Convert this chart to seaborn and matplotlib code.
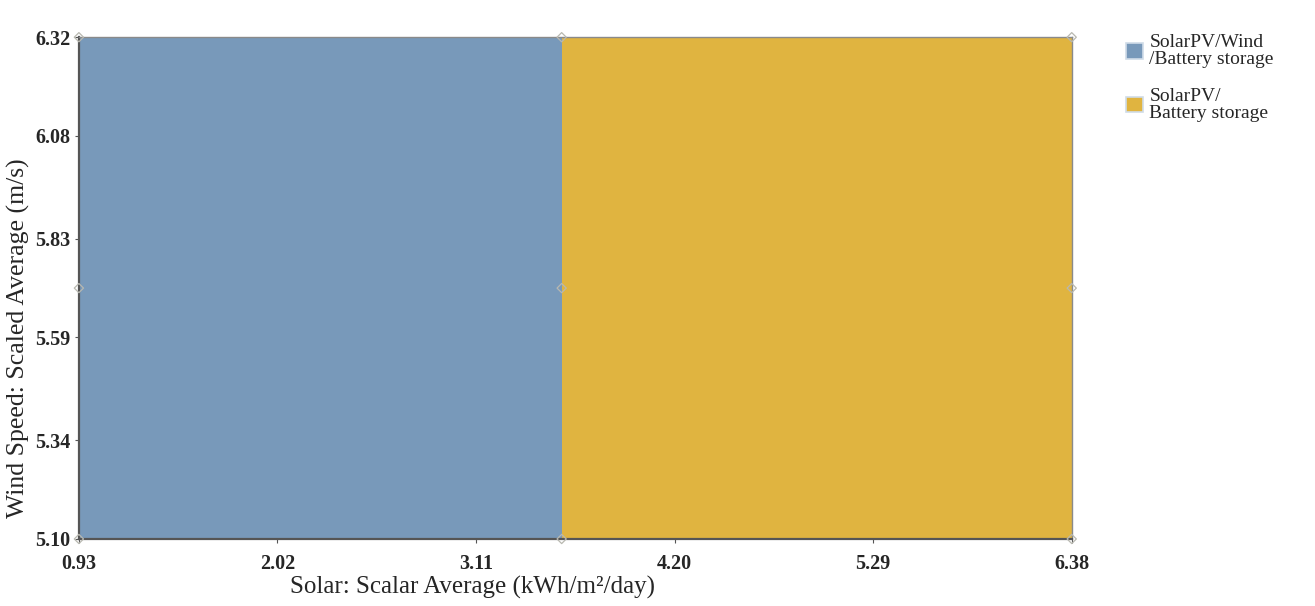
import numpy as np
import pandas as pd
import matplotlib
matplotlib.use("Agg")
import matplotlib.pyplot as plt
import seaborn as sns
from matplotlib.patches import Patch

# ---- data ----
solar_edges = [0.93, 3.58, 6.38]          # kWh/m2/day boundaries of regions
wind_range = [5.10, 6.32]                 # m/s
region_names = ["SolarPV/Wind\n/Battery storage", "SolarPV/\nBattery storage"]
region_colors = ["#7899BA", "#E0B440"]
x_ticks = [0.93, 2.02, 3.11, 4.20, 5.29, 6.38]
y_ticks = [5.10, 5.34, 5.59, 5.83, 6.08, 6.32]
marker_x = [0.93, 3.58, 6.38]
marker_y = [5.10, 5.71, 6.32]

sns.set_theme(style="white")
plt.rcParams["font.family"] = ["Liberation Serif", "DejaVu Serif"]

fig = plt.figure(figsize=(13.15, 6.06), dpi=100)
ax = fig.add_axes([0.060, 0.1106, 0.755, 0.828])

for i, name in enumerate(region_names):
    ax.fill_between([solar_edges[i], solar_edges[i + 1]], wind_range[0], wind_range[1],
                    color=region_colors[i], linewidth=0, zorder=1)

pts = pd.DataFrame([(x, y) for x in marker_x for y in marker_y], columns=["x", "y"])
sns.scatterplot(data=pts, x="x", y="y", marker="D", s=22, facecolor="none",
                edgecolor="#B8B8B0", linewidth=0.9, ax=ax, zorder=3, clip_on=False)

ax.set_xlim(solar_edges[0], solar_edges[-1])
ax.set_ylim(wind_range[0], wind_range[1])
ax.set_xticks(x_ticks)
ax.set_xticklabels([f"{v:.2f}" for v in x_ticks], fontweight="bold", fontsize=14.5)
ax.set_yticks(y_ticks)
ax.set_yticklabels([f"{v:.2f}" for v in y_ticks], fontweight="bold", fontsize=14.5)
ax.tick_params(axis="both", length=3, width=0.8, color="#555555", bottom=True, left=True)
ax.tick_params(axis="x", pad=8)
ax.tick_params(axis="y", pad=3)

for side in ["left", "bottom"]:
    ax.spines[side].set_color("#555555")
    ax.spines[side].set_linewidth(1.6)
for side in ["top", "right"]:
    ax.spines[side].set_color("#8A8A8A")
    ax.spines[side].set_linewidth(1.0)

ax.set_xlabel("Solar: Scalar Average (kWh/m²/day)", fontsize=18)
ax.xaxis.set_label_coords(0.396, -0.074)
ax.set_ylabel("Wind Speed: Scaled Average (m/s)", fontsize=18.5)
ax.yaxis.set_label_coords(-0.049, 0.40)

handles = [Patch(facecolor=c, edgecolor="#D0DCE8", linewidth=1.2) for c in region_colors]
leg = fig.legend(handles, region_names, loc="upper left", bbox_to_anchor=(0.843, 0.972),
                 frameon=False, prop={"size": 14},
                 handlelength=0.85, handleheight=0.85, labelspacing=1.05, handletextpad=0.35)
for t in leg.get_texts():
    t.set_linespacing(0.95)

fig.savefig("out.png", dpi=100)
